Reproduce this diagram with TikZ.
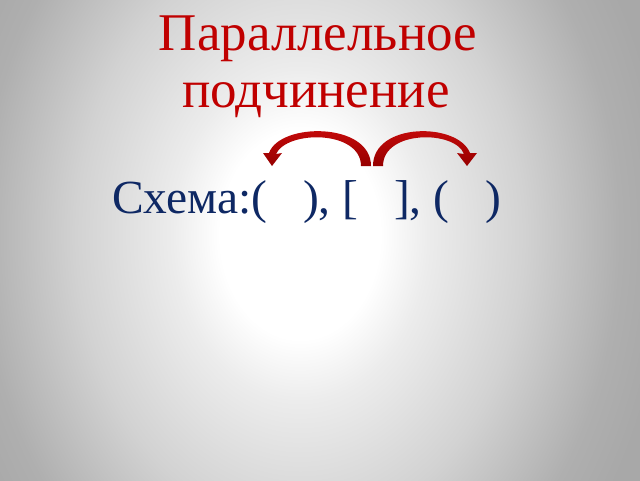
\documentclass[tikz,border=0pt]{standalone}
\usepackage{fontspec}
\setmainfont{Liberation Serif}
\definecolor{titlered}{RGB}{192,0,0}
\definecolor{schemeblue}{RGB}{14,40,100}
\definecolor{arrowtop}{RGB}{205,12,12}
\definecolor{arrowbot}{RGB}{150,0,0}
\definecolor{bgA}{RGB}{236,236,236}
\definecolor{bgB}{RGB}{210,210,210}
\definecolor{bgC}{RGB}{175,175,175}
\definecolor{bgD}{RGB}{168,168,168}
\pgfdeclareradialshading{slidebg}{\pgfpoint{0bp}{0bp}}{color(0bp)=(white); color(5bp)=(white); color(8bp)=(bgA); color(14bp)=(bgB); color(20bp)=(bgC); color(23bp)=(bgD); color(72bp)=(bgD)}
\tikzset{
  titletext/.style={font=\fontsize{53}{60}\selectfont, text=titlered, inner sep=0pt, anchor=base},
  schemetext/.style={font=\fontsize{47.5}{54}\selectfont, text=schemeblue, inner sep=0pt, anchor=base west},
  redarrow/.style={top color=arrowtop, bottom color=arrowbot, draw=none}
}
\begin{document}
\begin{tikzpicture}[x=1pt,y=-1pt]
\useasboundingbox (0,0) rectangle (640,480);
\begin{scope}
  \clip (0,0) rectangle (640,480);
  \shade[shading=slidebg] (-100,-285) rectangle (700,755);
\end{scope}
% title
\node[titletext] (title1) at (318,50) {Параллельное};
\node[titletext] (title2) at (316,107) {подчинение};
% scheme
\node[schemetext] (scheme) at (112,213) {Схема:(~~~), [~~~], (~~~)};
% left arrow (from [ ] to first ( ))
\shade[redarrow] (371,166) .. controls (371,122) and (280,122) .. (269,153)
  -- (263,153) -- (272,166) -- (282,153) -- (276,154)
  .. controls (287,130) and (361,130) .. (361,166) -- cycle;
% right arrow (from [ ] to second ( ))
\shade[redarrow] (373,166) .. controls (373,122) and (458,122) .. (470,153)
  -- (477,153) -- (467,166) -- (457,153) -- (464,154)
  .. controls (455,130) and (383,130) .. (383,166) -- cycle;
\end{tikzpicture}
\end{document}
